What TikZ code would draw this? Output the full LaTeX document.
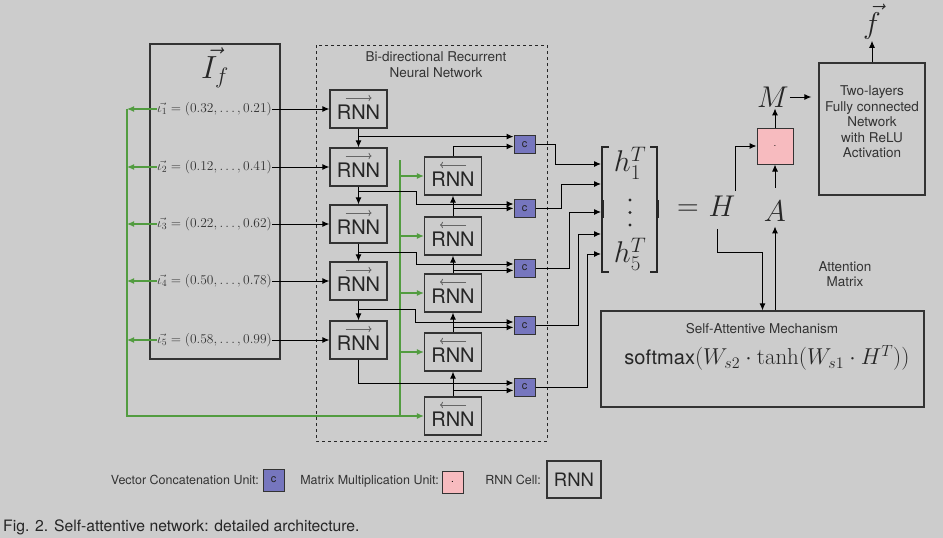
\RequirePackage{fix-cm}
\documentclass[tikz,border=0pt]{standalone}
\usepackage[no-math]{fontspec}
\setmainfont{TeX Gyre Heros}
\usetikzlibrary{arrows.meta}
\definecolor{bggray}{RGB}{204,204,204}
\definecolor{catblue}{RGB}{118,118,190}
\definecolor{mulpink}{RGB}{247,187,191}
\definecolor{feedgreen}{RGB}{82,156,64}

\begin{document}
\begin{tikzpicture}
        [x=1pt, y=-1pt,
        rnn/.style={draw=black!80, line width=1.2pt, minimum width=57pt, minimum height=38pt, inner sep=0pt,
            text=black!85, font=\fontsize{20}{20}\selectfont, text height=21.4pt, text depth=0pt},
        fwd/.style={rnn, path picture={\draw[black!60, line width=0.9pt, -{To[length=3pt]}]
            ([xshift=-13pt,yshift=-8pt]path picture bounding box.north) -- ++(26pt,0pt);}},
        bwd/.style={rnn, path picture={\draw[black!60, line width=0.9pt, -{To[length=3pt]}]
            ([xshift=13pt,yshift=-8pt]path picture bounding box.north) -- ++(-26pt,0pt);}},
        cat/.style={draw=black!80, line width=1pt, fill=catblue, minimum width=21pt, minimum height=18pt,
            inner sep=0pt, text=black!85, font=\fontsize{11}{11}\selectfont},
        mul/.style={draw=black!80, line width=1pt, fill=mulpink, minimum width=36pt, minimum height=36pt, inner sep=0pt},
        vecrow/.style={text=black!80, font=\fontsize{13.5}{15}\selectfont, inner sep=0pt},
        labeltext/.style={text=black!80, font=\fontsize{13.5}{15.5}\selectfont, align=center},
        big/.style={text=black!85, font=\fontsize{30}{36}\selectfont, inner sep=1pt},
        edge/.style={black, line width=1pt, -{Latex[length=7pt,width=6pt]}},
        feed/.style={feedgreen, line width=1.2pt, -{Latex[length=7pt,width=6pt]}}]

        \path[use as bounding box, fill=bggray] (0,0) rectangle (943,538);

        % --- Input vectors ---
        \draw[line width=1.2pt, black!80] (150,44) rectangle (280,359);
        \node[big, font=\fontsize{32}{38}\selectfont] (If) at (215,68) {$\vec{I_f}$};
        \node[vecrow] (in1) at (214.5,109) {$\vec{\iota_1} = (0.32,\ldots,0.21)$};
        \node[vecrow] (in2) at (214.5,167) {$\vec{\iota_2} = (0.12,\ldots,0.41)$};
        \node[vecrow] (in3) at (214.5,224) {$\vec{\iota_3} = (0.22,\ldots,0.62)$};
        \node[vecrow] (in4) at (214.5,281) {$\vec{\iota_4} = (0.50,\ldots,0.78)$};
        \node[vecrow] (in5) at (214.5,340) {$\vec{\iota_5} = (0.58,\ldots,0.99)$};

        % --- Bi-directional RNN ---
        \draw[dashed, black!85, line width=0.9pt] (316,45) rectangle (547,441);
        \node[labeltext, font=\fontsize{13.5}{16}\selectfont] (birnn) at (436,65) {Bi-directional Recurrent\\Neural Network};

        \node[fwd] (f1) at (358.5,109) {RNN};
        \node[fwd] (f2) at (358.5,167) {RNN};
        \node[fwd] (f3) at (358.5,224) {RNN};
        \node[fwd] (f4) at (358.5,281) {RNN};
        \node[fwd] (f5) at (358.5,340) {RNN};

        \node[bwd] (b1) at (453,176) {RNN};
        \node[bwd] (b2) at (453,236) {RNN};
        \node[bwd] (b3) at (453,293) {RNN};
        \node[bwd] (b4) at (453,352) {RNN};
        \node[bwd] (b5) at (453,416) {RNN};

        \node[cat] (c1) at (524.5,144.5) {c};
        \node[cat] (c2) at (524.5,208.5) {c};
        \node[cat] (c3) at (524.5,268) {c};
        \node[cat] (c4) at (524.5,325.5) {c};
        \node[cat] (c5) at (524.5,387) {c};

        \draw[edge] (in1) -- (f1);
        \draw[edge] (in2) -- (f2);
        \draw[edge] (in3) -- (f3);
        \draw[edge] (in4) -- (f4);
        \draw[edge] (in5) -- (f5);

        % green feed of the inputs into the backward cells
        \coordinate (gl) at (127,416);
        \coordinate (gr) at (400,416);
        \coordinate (gt) at (400,160);
        \draw[feedgreen, line width=1.2pt] (gl |- in1) -- (gl) -- (gr) -- (gt);
        \draw[feed] (in1.west) -- (gl |- in1);
        \draw[feed] (in2.west) -- (gl |- in2);
        \draw[feed] (in3.west) -- (gl |- in3);
        \draw[feed] (in4.west) -- (gl |- in4);
        \draw[feed] (in5.west) -- (gl |- in5);
        \draw[feed] (gr |- b1) -- (b1.west);
        \draw[feed] (gr |- b2) -- (b2.west);
        \draw[feed] (gr |- b3) -- (b3.west);
        \draw[feed] (gr |- b4) -- (b4.west);
        \draw[feed] (gr |- b5) -- (b5.west);

        % forward chain and its outputs
        \coordinate (fo1) at ([yshift=-8pt]f1.south);
        \coordinate (fo2) at ([yshift=-5pt]f2.south);
        \coordinate (fo3) at ([yshift=-9pt]f3.south);
        \coordinate (fo4) at ([yshift=-9pt]f4.south);
        \draw[edge] (f1) -- (f2);
        \draw[edge] (f2) -- (f3);
        \draw[edge] (f3) -- (f4);
        \draw[edge] (f4) -- (f5);
        \draw[edge] (fo1) -- (fo1 -| c1.west);
        \draw[edge] (fo2) -- ++(58,0) |- ([yshift=4.5pt]c2.west);
        \draw[edge] (fo3) -- ++(58,0) |- ([yshift=4pt]c3.west);
        \draw[edge] (fo4) -- ++(57,0) |- ([yshift=3.5pt]c4.west);
        \draw[edge] (f5) |- ([yshift=4pt]c5.west);

        % backward chain and its outputs
        \coordinate (bo1) at ([yshift=10pt]b1.north);
        \coordinate (bo2) at ([yshift=8pt]b2.north);
        \coordinate (bo3) at ([yshift=3pt]b3.north);
        \coordinate (bo4) at ([yshift=5pt]b4.north);
        \coordinate (bo5) at ([yshift=6pt]b5.north);
        \draw[edge] (b5) -- (b4);
        \draw[edge] (b4) -- (b3);
        \draw[edge] (b3) -- (b2);
        \draw[edge] (b2) -- (b1);
        \draw[edge] (b1.north) |- (bo1 -| c1.west);
        \draw[edge] (bo2) -- (bo2 -| c2.west);
        \draw[edge] (bo3) -- (bo3 -| c3.west);
        \draw[edge] (bo4) -- (bo4 -| c4.west);
        \draw[edge] (bo5) -- (bo5 -| c5.west);

        % --- Hidden state matrix ---
        \draw[line width=1.6pt, black!85] (609,147) -- (602,147) -- (602,272) -- (609,272);
        \draw[line width=1.6pt, black!85] (650,147) -- (657,147) -- (657,272) -- (650,272);
        \draw[line width=3pt, black!85] (602.5,200) -- (602.5,218);
        \draw[line width=3pt, black!85] (657.5,200) -- (657.5,218);
        \node[big] (h1) at (630,163) {$h_1^T$};
        \node[big] (h5) at (630,254) {$h_5^T$};
        \fill[black!85] (630,200) circle (1.7) (630,212.5) circle (1.7) (630,225) circle (1.7);

        \coordinate (hin1) at (601,164);
        \coordinate (hin2) at (601,184);
        \coordinate (hin3) at (601,212);
        \coordinate (hin4) at (601,234);
        \coordinate (hin5) at (601,254);
        \draw[edge] (c1.east) -- ++(20,0) |- (hin1);
        \draw[edge] (c2.east) -- ++(26,0) |- (hin2);
        \draw[edge] (c3.east) -- ++(34,0) |- (hin3);
        \draw[edge] (c4.east) -- ++(43,0) |- (hin4);
        \draw[edge] (c5.east) -- ++(52,0) |- (hin5);

        \node[big] (eq) at (688,210) {$=$};
        \node[big] (H) at (722,206.5) {$H$};
        \node[big] (A) at (775,211) {$A$};

        % --- Attention and output ---
        \node[draw=black!80, line width=1.2pt, minimum width=323pt, minimum height=96pt] (sam) at (762.5,359) {};
        \node[labeltext] (samtitle) at (762,329) {Self-Attentive Mechanism};
        \node[big, font=\fontsize{23}{27}\selectfont] (samformula) at (767,358)
            {\mbox{\fontsize{20}{24}\selectfont softmax}$(W_{s2}\cdot\tanh(W_{s1}\cdot H^T))$};
        \node[labeltext] (attn) at (845,274) {Attention\\Matrix};

        \node[mul] (pink) at (775,146) {$\cdot$};
        \node[big] (M) at (773,97) {$M$};
        \node[draw=black!80, line width=1.2pt, minimum width=106pt, minimum height=132pt] (fc) at (872,129) {};
        \node[labeltext] (fctext) at (872,122) {Two-layers\\Fully connected\\Network\\with ReLU\\Activation};
        \node[big] (fv) at (872,22) {$\vec{f}$};

        \draw[edge] ([xshift=-5pt,yshift=-11pt]H.south) -- ++(0,24) -| (sam.north);
        \draw[edge] (sam.north -| A) -- ([yshift=-4pt]A.south);
        \draw[edge] ([yshift=12pt]A.north) -- (pink.south);
        \draw[edge] ([xshift=13pt,yshift=4pt]H.north) |- (pink.west);
        \draw[edge] (pink.north) -- (pink.north |- M.south);
        \draw[edge, shorten >=7pt] (M.east) -- (M.east -| fc.west);
        \draw[edge] (fc) -- (fv);

        % --- Legend ---
        \node[labeltext, font=\fontsize{12.5}{14}\selectfont, anchor=east, inner sep=0pt] (legc) at (259,480) {Vector Concatenation Unit:};
        \node[cat, minimum height=22pt] (cat0) at (273.5,480) {c};
        \node[labeltext, font=\fontsize{12.5}{14}\selectfont, anchor=east, inner sep=0pt] (legm) at (439,481) {Matrix Multiplication Unit:};
        \node[mul, minimum width=21pt, minimum height=22pt] (mul0) at (452.5,482) {.};
        \node[labeltext, font=\fontsize{12.5}{14}\selectfont, anchor=east, inner sep=0pt] (legr) at (541,480) {RNN Cell:};
        \node[rnn, minimum width=54pt, minimum height=37pt, font=\fontsize{18.5}{18.5}\selectfont, text height=13.3pt] (rnn0) at (574,479.5) {RNN};

        \node[anchor=base west, inner sep=0pt, text=black!85, font=\fontsize{15.7}{18}\selectfont] (cap) at (3,531.5)
            {Fig. 2. Self-attentive network: detailed architecture.};
\end{tikzpicture}
\end{document}
